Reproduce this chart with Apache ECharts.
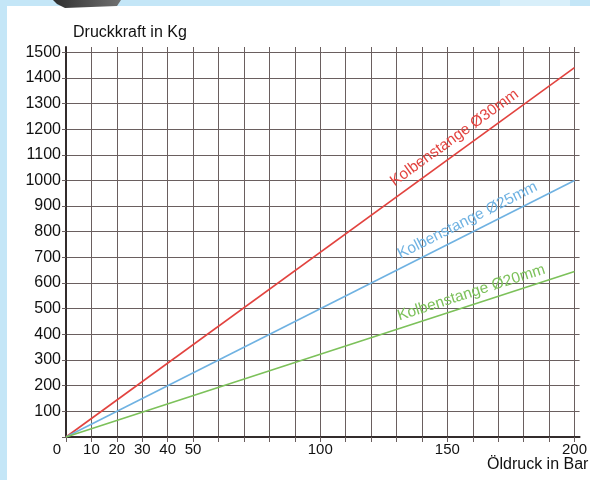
<!DOCTYPE html>
<html>
<head>
<meta charset="utf-8">
<script src="https://cdn.jsdelivr.net/npm/echarts@6/dist/echarts.min.js"></script>
<style>
  html, body { margin: 0; padding: 0; }
  #chart { width: 590px; height: 480px; }
</style>
</head>
<body>
<div id="chart"></div>
<script>
// Öldruck (bar) -> Druckkraft (kg)
var druck = [0, 200];
var kraft30 = [0, 1440];
var kraft25 = [0, 1000];
var kraft20 = [0, 645];

var xTicks = [0, 10, 20, 30, 40, 50, 60, 70, 80, 90, 100, 110, 120, 130, 140, 150, 160, 170, 180, 190, 200];
var xLabels = [0, 10, 20, 30, 40, 50, 100, 150, 200];
var yTicks = [0, 100, 200, 300, 400, 500, 600, 700, 800, 900, 1000, 1100, 1200, 1300, 1400, 1500];
var yLabels = [100, 200, 300, 400, 500, 600, 700, 800, 900, 1000, 1100, 1200, 1300, 1400, 1500];

// Beschriftung der Linien (Position in Datenkoordinaten)
var beschriftung = [
  { name: 'Kolbenstange Ø30mm', at: [152.8, 1166], color: '#e2433f' },
  { name: 'Kolbenstange Ø25mm', at: [157.9, 844], color: '#6fb2e2' },
  { name: 'Kolbenstange Ø20mm', at: [159.4, 562], color: '#7cc15a' }
];

var chartDom = document.getElementById('chart');
var myChart = echarts.init(chartDom);

var gridColor = '#6a5f5f';
var fontFam = '"Liberation Sans", Arial, sans-serif';
var textColor = '#111111';

function pairs(xs, ys) {
  return xs.map(function (x, i) { return [x, ys[i]]; });
}

function lineSeries(data, lab) {
  // Winkel der Linie in Pixeln (grid: 517px fuer 202 bar, 390px fuer 1520 kg)
  var dx = (data[1][0] - data[0][0]) * 517 / 202;
  var dy = (data[1][1] - data[0][1]) * 390 / 1520;
  var angle = Math.atan2(dy, dx) * 180 / Math.PI;
  return {
    type: 'line',
    data: data,
    showSymbol: false,
    lineStyle: { color: lab.color, width: 1.6 },
    itemStyle: { color: lab.color },
    silent: true,
    markPoint: {
      symbol: 'circle',
      symbolSize: 1,
      itemStyle: { color: 'transparent' },
      label: {
        show: true,
        position: 'inside',
        rotate: angle,
        formatter: lab.name,
        color: lab.color,
        fontSize: 15.5,
        fontFamily: fontFam
      },
      data: [{ coord: lab.at }]
    }
  };
}

var option = {
  backgroundColor: '#c4e6f7',
  animation: false,
  graphic: [
    { type: 'rect', shape: { x: 7, y: 6, width: 590, height: 480 }, style: { fill: '#ffffff' }, z: -10 },
    { type: 'rect', shape: { x: 500, y: 0, width: 70, height: 6 }, style: { fill: '#d8effa' }, z: -10 },
    {
      type: 'polygon',
      shape: { points: [[53, 0], [57, 4], [65, 8], [117, 6], [121, 0]] },
      style: {
        fill: new echarts.graphic.LinearGradient(0, 0, 1, 0, [
          { offset: 0, color: '#2f2f2f' },
          { offset: 1, color: '#707070' }
        ])
      },
      z: -9
    },
    {
      type: 'text', left: 73, top: 25,
      style: { text: 'Druckkraft in Kg', fontSize: 16, fontFamily: fontFam, fill: textColor }
    },
    {
      type: 'text', left: 487, top: 457,
      style: { text: 'Öldruck in Bar', fontSize: 16, fontFamily: fontFam, fill: textColor }
    }
  ],
  grid: { left: 66, right: 7, top: 47, bottom: 43, containLabel: false },
  xAxis: {
    type: 'value',
    min: 0,
    max: 202,
    axisLine: { show: true, onZero: false, lineStyle: { color: '#332c2c', width: 2 } },
    axisTick: { show: true, length: 5, customValues: xTicks, lineStyle: { color: gridColor } },
    splitLine: { show: true, lineStyle: { color: gridColor, width: 1 } },
    axisLabel: {
      customValues: xLabels,
      margin: 5,
      fontSize: 15,
      fontFamily: fontFam,
      color: textColor,
      formatter: function (v) { return v === 0 ? '{z|0}' : String(v); },
      rich: { z: { fontSize: 15, fontFamily: fontFam, color: textColor, padding: [0, 18, 0, 0] } }
    }
  },
  yAxis: {
    type: 'value',
    min: 0,
    max: 1520,
    axisLine: { show: true, onZero: false, lineStyle: { color: '#332c2c', width: 2 } },
    axisTick: { show: true, length: 4, customValues: yTicks, lineStyle: { color: gridColor } },
    splitLine: { show: true, lineStyle: { color: gridColor, width: 1 } },
    axisLabel: {
      customValues: yLabels,
      margin: 5,
      fontSize: 16,
      fontFamily: fontFam,
      color: textColor,
      formatter: function (v) { return String(v); }
    }
  },
  series: [
    lineSeries(pairs(druck, kraft30), beschriftung[0]),
    lineSeries(pairs(druck, kraft25), beschriftung[1]),
    lineSeries(pairs(druck, kraft20), beschriftung[2])
  ]
};

option && myChart.setOption(option);
</script>
</body>
</html>
